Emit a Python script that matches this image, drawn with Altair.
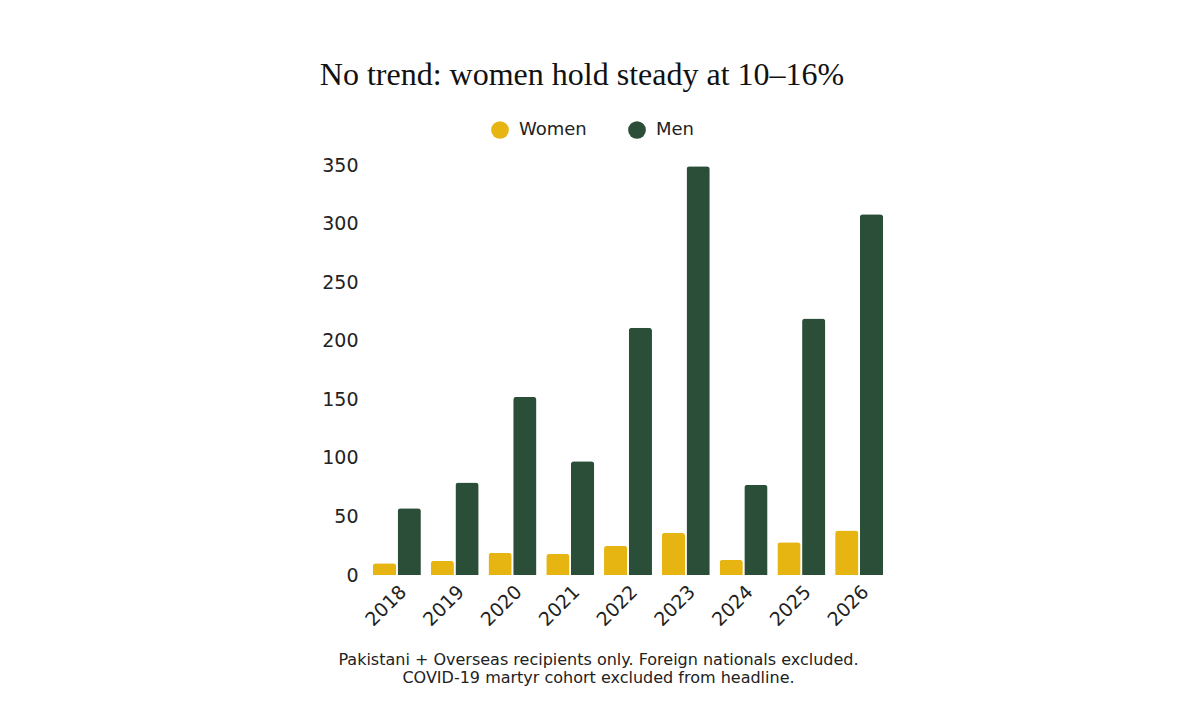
import altair as alt
import pandas as pd

years = ["2018", "2019", "2020", "2021", "2022", "2023", "2024", "2025", "2026"]
women = [10, 12, 19, 18, 25, 36, 13, 28, 38]
men = [57, 79, 152, 97, 211, 349, 77, 219, 308]
genders = ["Women", "Men"]
colors = ["#E6B512", "#2B4E38"]
footnote = [
    "Pakistani + Overseas recipients only. Foreign nationals excluded.",
    "COVID-19 martyr cohort excluded from headline.",
]

rows = []
for y, w, m in zip(years, women, men):
    rows.append({"year": y, "gender": "Women", "value": w})
    rows.append({"year": y, "gender": "Men", "value": m})
df = pd.DataFrame(rows)

SANS = "DejaVu Sans"

chart = (
    alt.Chart(df)
    .mark_bar(cornerRadiusTopLeft=3, cornerRadiusTopRight=3)
    .encode(
        x=alt.X(
            "year:N",
            sort=years,
            scale=alt.Scale(paddingInner=0.17, paddingOuter=0.085),
            axis=alt.Axis(
                title=footnote,
                titleFont=SANS,
                titleFontSize=16,
                titleFontWeight="normal",
                titleColor="#222222",
                titleLineHeight=18,
                titleX=230,
                titleY=76,
                titleBaseline="top",
                titleAnchor="middle",
                titleAlign="center",
                labelAngle=-45,
                labelFont=SANS,
                labelFontSize=19,
                labelColor="#222222",
                labelPadding=7,
                domain=False,
                ticks=False,
                grid=False,
            ),
        ),
        xOffset=alt.XOffset(
            "gender:N", sort=genders, scale=alt.Scale(paddingInner=0.06)
        ),
        y=alt.Y(
            "value:Q",
            scale=alt.Scale(domain=[0, 350], nice=False),
            axis=alt.Axis(
                title=None,
                values=[0, 50, 100, 150, 200, 250, 300, 350],
                labelFont=SANS,
                labelFontSize=19,
                labelColor="#222222",
                labelPadding=10,
                domain=False,
                ticks=False,
                grid=False,
            ),
        ),
        color=alt.Color(
            "gender:N",
            sort=genders,
            scale=alt.Scale(domain=genders, range=colors),
            legend=alt.Legend(
                title=None,
                orient="none",
                legendX=123,
                legendY=-44,
                direction="horizontal",
                symbolType="circle",
                symbolSize=314,
                symbolStrokeWidth=0,
                labelFont=SANS,
                labelFontSize=18,
                labelColor="#222222",
                labelOffset=10,
                columnPadding=41,
            ),
        ),
    )
    .properties(
        width=520,
        height=410,
        background="white",
        autosize=alt.AutoSizeParams(type="none"),
        padding={"left": 360, "top": 157, "right": 300, "bottom": 130},
        title=alt.TitleParams(
            "No trend: women hold steady at 10–16%",
            font="Liberation Serif",
            fontSize=32,
            fontWeight="normal",
            color="#111111",
            anchor="middle",
            frame="group",
            dx=-46,
            offset=29,
        ),
    )
    .configure_view(stroke="transparent", strokeWidth=0)
)

chart.save("out.html", embed_options={"renderer": "svg", "actions": False})
